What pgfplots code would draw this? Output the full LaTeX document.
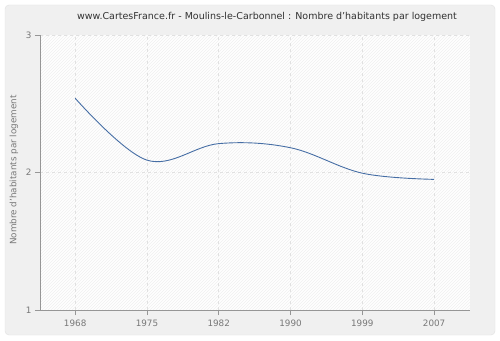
\documentclass[border=0pt]{standalone}
\usepackage{pgfplots}
\pgfplotsset{compat=1.18}
\usetikzlibrary{patterns}
\usepackage{fontspec}
\setmainfont{DejaVu Sans}
\definecolor{bgout}{RGB}{240,240,240}
\definecolor{frameline}{RGB}{225,225,225}
\definecolor{axisgray}{RGB}{150,150,150}
\definecolor{ticktext}{RGB}{120,120,120}
\definecolor{gridgray}{RGB}{225,225,225}
\definecolor{linecol}{RGB}{70,110,165}
\definecolor{titlecol}{RGB}{50,50,50}

\begin{document}
\begin{tikzpicture}[x=1pt,y=1pt]
\useasboundingbox (-40,-30) rectangle (460,310);
% outer panel
\fill[white] (-40,-30) rectangle (460,310);
\draw[frameline, fill=bgout, rounded corners=4pt] (-35,-25) rectangle (455,305);
\begin{axis}[
    at={(0,0)}, anchor=south west,
    scale only axis,
    width=430pt, height=275pt,
    xmin=-0.49, xmax=5.5,
    ymin=1, ymax=3,
    xtick={0,1,2,3,4,5},
    xticklabels={1968,1975,1982,1990,1999,2007},
    ytick={1,2,3},
    axis x line*=bottom,
    axis y line*=left,
    axis line style={axisgray, line width=0.8pt, -},
    tick style={axisgray, line width=0.8pt},
    tick align=outside,
    major tick length=5pt,
    tick label style={font=\fontsize{8.8}{10}\selectfont, text=ticktext},
    /pgf/number format/assume math mode=true,
    xticklabel style={yshift=-1pt},
    grid=major,
    grid style={gridgray, dashed, line width=0.6pt},
    axis background/.style={fill=white, postaction={pattern=north east lines, pattern color=gray!12}},
    clip=false,
]
\addplot[linecol, line width=0.9pt, smooth, tension=0.6] coordinates {
    (0,2.54) (1,2.09) (2,2.21) (3,2.18) (4,1.995) (5,1.95)
};
\end{axis}
\node[text=titlecol, font=\fontsize{9.5}{11}\selectfont] at (227,293) {www.CartesFrance.fr - Moulins-le-Carbonnel : Nombre d'habitants par logement};
\node[text=ticktext, font=\fontsize{8.8}{10}\selectfont, rotate=90] at (-26,140) {Nombre d'habitants par logement};
\end{tikzpicture}
\end{document}
